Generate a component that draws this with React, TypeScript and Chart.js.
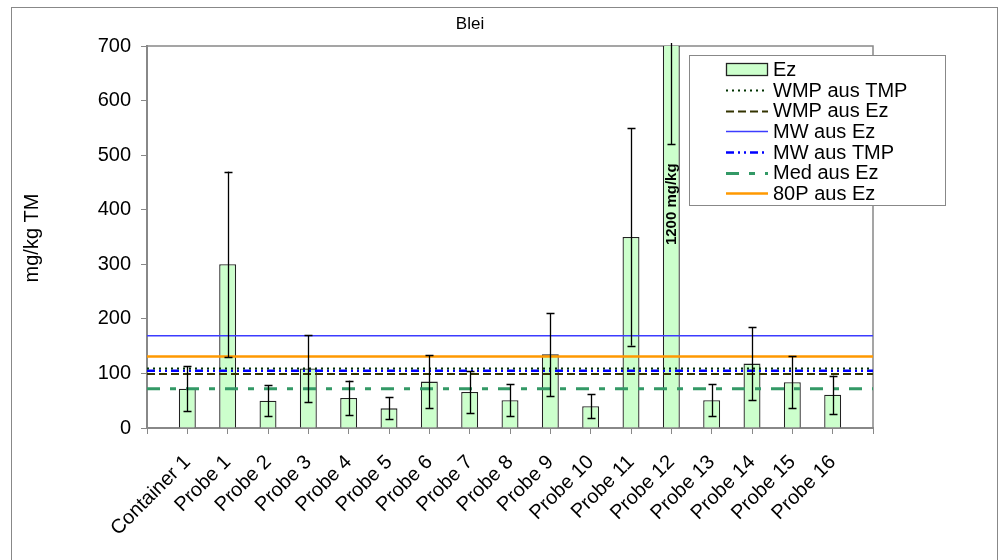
import { useEffect, useRef } from 'react';
import { Chart, registerables } from 'chart.js';

Chart.register(...registerables);

const FONT = '"Liberation Sans", Arial, sans-serif';

const categories = ['', 'Container 1', 'Probe 1', 'Probe 2', 'Probe 3', 'Probe 4', 'Probe 5', 'Probe 6', 'Probe 7', 'Probe 8', 'Probe 9', 'Probe 10', 'Probe 11', 'Probe 12', 'Probe 13', 'Probe 14', 'Probe 15', 'Probe 16', ''];
const ezValues = [null, 72, 300, 50, 109, 55, 36, 85, 66, 51, 135, 40, 350, 1200, 51, 118, 84, 61, null];
const ezErrors = [null, 41, 170, 28, 62, 32, 20, 49, 38, 29, 76, 22, 199, 680, 29, 67, 48, 35, null];

const WMP_AUS_TMP = 109;
const WMP_AUS_EZ = 99;
const MW_AUS_EZ = 169;
const MW_AUS_TMP = 105;
const MED_AUS_EZ = 72;
const P80_AUS_EZ = 131;

const yTicks = [0, 100, 200, 300, 400, 500, 600, 700];
const overflowLabel = '1200 mg/kg';
const overflowIndex = 13;
const overflowLabelValue = 410;

type LineStyle = { label: string; value: number; color: string; width: number; dash: number[] };

const lineStyles: LineStyle[] = [
  { label: 'WMP aus TMP', value: WMP_AUS_TMP, color: '#003300', width: 2, dash: [2, 4] },
  { label: 'WMP aus Ez', value: WMP_AUS_EZ, color: '#333300', width: 2, dash: [8, 4] },
  { label: 'MW aus Ez', value: MW_AUS_EZ, color: '#3C3CFF', width: 1.5, dash: [] },
  { label: 'MW aus TMP', value: MW_AUS_TMP, color: '#0000FF', width: 2.5, dash: [8, 4, 2, 4, 2, 4] },
  { label: 'Med aus Ez', value: MED_AUS_EZ, color: '#339966', width: 3, dash: [13, 10, 6, 10] },
  { label: '80P aus Ez', value: P80_AUS_EZ, color: '#FF9900', width: 2.5, dash: [] },
];

const decorPlugin = {
  id: 'decor',
  beforeDraw(chart: any) {
    const ctx = chart.ctx;
    ctx.save();
    ctx.strokeStyle = '#888';
    ctx.lineWidth = 1;
    ctx.strokeRect(11.5, 7.5, 986, 600);
    ctx.fillStyle = '#000';
    ctx.font = `17px ${FONT}`;
    ctx.textAlign = 'center';
    ctx.textBaseline = 'middle';
    ctx.fillText('Blei', 470, 24);
    ctx.save();
    ctx.translate(32, 238);
    ctx.rotate(-Math.PI / 2);
    ctx.font = `20px ${FONT}`;
    ctx.fillText('mg/kg TM', 0, 0);
    ctx.restore();
    // x category labels
    const xs = chart.scales.x;
    ctx.font = `20px ${FONT}`;
    ctx.textAlign = 'right';
    ctx.textBaseline = 'alphabetic';
    categories.forEach((c, i) => {
      if (!c) return;
      const x = xs.getPixelForTick(i);
      ctx.save();
      ctx.translate(x + 4, xs.top + 35);
      ctx.rotate(-Math.PI / 4);
      ctx.fillText(c, 0, 0);
      ctx.restore();
    });
    ctx.restore();
  },
  beforeDatasetsDraw(chart: any) {
    const { ctx, chartArea } = chart;
    ctx.save();
    ctx.strokeStyle = '#888';
    ctx.lineWidth = 1.5;
    ctx.beginPath();
    ctx.moveTo(chartArea.left, chartArea.top);
    ctx.lineTo(chartArea.right, chartArea.top);
    ctx.lineTo(chartArea.right, chartArea.bottom);
    ctx.stroke();
    ctx.restore();
  },
  afterDatasetsDraw(chart: any) {
    const { ctx, chartArea } = chart;
    const yScale = chart.scales.y;
    const meta = chart.getDatasetMeta(0);
    ctx.save();
    ctx.beginPath();
    ctx.rect(chartArea.left, chartArea.top - 3, chartArea.right - chartArea.left, chartArea.bottom - chartArea.top + 3);
    ctx.clip();
    ctx.strokeStyle = '#000';
    ctx.lineWidth = 1.3;
    meta.data.forEach((el: any, i: number) => {
      const v = ezValues[i];
      const e = ezErrors[i];
      if (v == null || e == null) return;
      const x = Math.round(el.x) + 0.5;
      const yTop = yScale.getPixelForValue(v + e);
      const yBot = yScale.getPixelForValue(v - e);
      ctx.beginPath();
      ctx.moveTo(x, yTop);
      ctx.lineTo(x, yBot);
      ctx.moveTo(x - 4, Math.round(yTop) + 0.5);
      ctx.lineTo(x + 4, Math.round(yTop) + 0.5);
      ctx.moveTo(x - 4, Math.round(yBot) + 0.5);
      ctx.lineTo(x + 4, Math.round(yBot) + 0.5);
      ctx.stroke();
    });
    ctx.restore();

    const el = meta.data[overflowIndex];
    if (el) {
      ctx.save();
      ctx.translate(el.x + 1, yScale.getPixelForValue(overflowLabelValue));
      ctx.rotate(-Math.PI / 2);
      ctx.font = `bold 15px ${FONT}`;
      ctx.fillStyle = '#000';
      ctx.textAlign = 'center';
      ctx.textBaseline = 'middle';
      ctx.fillText(overflowLabel, 0, 0);
      ctx.restore();
    }

    // legend
    ctx.save();
    ctx.fillStyle = '#fff';
    ctx.fillRect(689, 55, 257, 151);
    ctx.strokeStyle = '#888';
    ctx.lineWidth = 1;
    ctx.strokeRect(689.5, 55.5, 256, 150);
    ctx.font = `20px ${FONT}`;
    ctx.textAlign = 'left';
    ctx.textBaseline = 'middle';
    const x0 = 726;
    const x1 = 768;
    const tx = 773;
    const rowY = (k: number) => 69.5 + k * 20.65;
    ctx.fillStyle = '#CCFFCC';
    ctx.fillRect(x0, 63, x1 - x0, 13);
    ctx.strokeStyle = '#222';
    ctx.lineWidth = 1.3;
    ctx.strokeRect(x0 + 0.5, 63.5, x1 - x0 - 1, 12);
    ctx.fillStyle = '#000';
    ctx.fillText('Ez', tx, rowY(0) + 1);
    lineStyles.forEach((ls, k) => {
      const y = Math.round(rowY(k + 1)) + 0.5;
      ctx.strokeStyle = ls.color;
      ctx.lineWidth = ls.width;
      ctx.setLineDash(ls.dash);
      ctx.beginPath();
      ctx.moveTo(x0, y);
      ctx.lineTo(x1, y);
      ctx.stroke();
      ctx.setLineDash([]);
      ctx.fillStyle = '#000';
      ctx.fillText(ls.label, tx, rowY(k + 1) + 1);
    });
    ctx.restore();
  },
};

export default function App() {
  const ref = useRef<HTMLCanvasElement | null>(null);
  useEffect(() => {
    if (!ref.current) return;
    const lineDatasets = lineStyles.map((ls) => ({
      type: 'line' as const,
      label: ls.label,
      xAxisID: 'xLine',
      data: [{ x: 0, y: ls.value }, { x: 1, y: ls.value }],
      borderColor: ls.color,
      borderWidth: ls.width,
      borderDash: ls.dash,
      pointRadius: 0,
      fill: false,
      order: 1,
    }));
    const chart = new Chart(ref.current, {
      type: 'bar',
      data: {
        labels: categories,
        datasets: [
          {
            type: 'bar',
            label: 'Ez',
            data: ezValues as any,
            backgroundColor: '#CCFFCC',
            borderColor: '#222',
            borderWidth: 1.3,
            grouped: false,
            barPercentage: 0.42,
            categoryPercentage: 1,
            order: 10,
          } as any,
          ...lineDatasets,
        ],
      },
      options: {
        animation: false,
        responsive: false,
        devicePixelRatio: 1,
        layout: { padding: { left: 0, top: 46, right: 126, bottom: 0 } },
        plugins: { legend: { display: false }, title: { display: false }, tooltip: { enabled: false } },
        scales: {
          x: {
            type: 'category',
            offset: false,
            grid: { display: true, offset: false, drawOnChartArea: false, drawTicks: true, tickLength: 6, color: '#888', lineWidth: 1 },
            border: { display: true, color: '#888', width: 2 },
            ticks: { display: false, autoSkip: false },
            afterFit: (s: any) => { s.height = 132; },
          },
          xLine: { type: 'linear', display: false, offset: false, grid: { offset: false }, min: 0, max: 1 },
          y: {
            min: 0,
            max: 700,
            afterBuildTicks: (s: any) => { s.ticks = yTicks.map((v) => ({ value: v })); },
            grid: { display: true, drawOnChartArea: false, drawTicks: true, tickLength: 6, color: '#888', lineWidth: 1 },
            border: { display: true, color: '#888', width: 2 },
            ticks: { color: '#000', padding: 10, font: { family: FONT, size: 20 } },
            afterFit: (s: any) => { s.width = 147; },
          },
        },
      } as any,
      plugins: [decorPlugin],
    });
    return () => chart.destroy();
  }, []);
  return (
    <div style={{ position: 'absolute', left: 0, top: 0, width: 999, height: 560 }}>
      <canvas ref={ref} width={999} height={560} />
    </div>
  );
}
